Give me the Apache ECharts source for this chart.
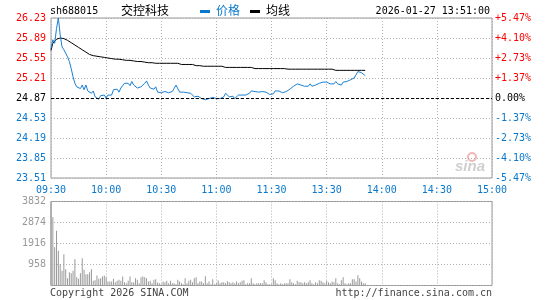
<!DOCTYPE html>
<html>
<head>
<meta charset="utf-8">
<script src="https://cdn.jsdelivr.net/npm/echarts@6/dist/echarts.min.js"></script>
<style>
html,body{margin:0;padding:0;background:#fff;}
#c{width:545px;height:300px;}
</style>
</head>
<body>
<div id="c"></div>
<script>
var preClose = 24.87;
var priceTicks = [23.51, 23.85, 24.19, 24.53, 24.87, 25.21, 25.55, 25.89, 26.23];
var pctLabels = ['-5.47%','-4.10%','-2.73%','-1.37%','0.00%','+1.37%','+2.73%','+4.10%','+5.47%'];
var timeLabels = ['09:30','10:00','10:30','11:00','11:30','13:30','14:00','14:30','15:00'];
var volTicks = [0, 958, 1916, 2874, 3832];

var prices = [
25.71,25.86,25.80,26.05,26.23,25.94,25.74,25.69,25.71,25.57,
25.49,25.37,25.23,25.12,25.06,25.09,25.03,25.09,25.01,25.09,
24.99,25.02,24.95,24.99,24.89,24.92,24.85,24.91,24.93,24.92,
24.87,24.92,24.95,24.92,25.01,24.99,25.02,24.97,25.04,25.06,
25.12,25.09,25.12,25.08,25.15,25.09,25.06,25.04,25.02,25.06,
25.09,25.12,25.16,25.09,25.04,25.01,25.02,25.06,24.97,24.99,
24.96,24.99,24.98,25.01,24.96,24.99,24.98,25.03,25.09,25.06,
24.97,24.97,24.97,24.96,24.96,24.94,24.95,24.92,24.89,24.89,
24.90,24.89,24.86,24.85,24.84,24.85,24.86,24.86,24.88,24.88,
24.86,24.86,24.86,24.86,24.89,24.95,24.94,24.89,24.92,24.90,
24.86,24.86,24.92,24.92,24.92,24.92,24.92,24.95,24.95,24.99,
24.99,24.98,24.97,24.97,24.97,24.98,24.98,24.97,24.95,24.93,
24.93,24.94,24.99,24.99,24.99,24.96,24.96,24.96,24.98,25.01,
25.02,25.05,25.07,25.09,25.11,25.11,25.09,25.10,25.07,25.10,
25.07,25.11,25.07,25.07,25.09,25.10,25.12,25.14,25.14,25.14,
25.14,25.14,25.11,25.11,25.11,25.15,25.11,25.11,25.09,25.14,
25.15,25.15,25.16,25.18,25.18,25.21,25.23,25.32,25.32,25.30,
25.28,25.25
];

var avgPrices = [
25.68,25.80,25.83,25.87,25.89,25.89,25.89,25.88,25.87,25.85,
25.83,25.81,25.79,25.77,25.75,25.73,25.71,25.69,25.67,25.65,
25.63,25.61,25.60,25.59,25.58,25.58,25.57,25.57,25.56,25.56,
25.55,25.55,25.54,25.54,25.54,25.53,25.53,25.53,25.52,25.52,
25.52,25.51,25.51,25.51,25.50,25.50,25.50,25.49,25.49,25.49,
25.48,25.48,25.48,25.47,25.47,25.47,25.47,25.46,25.46,25.46,
25.46,25.46,25.46,25.46,25.46,25.46,25.46,25.46,25.46,25.46,
25.44,25.44,25.44,25.44,25.44,25.44,25.44,25.44,25.44,25.42,
25.42,25.42,25.42,25.41,25.41,25.41,25.41,25.41,25.41,25.41,
25.41,25.41,25.41,25.41,25.39,25.39,25.39,25.39,25.39,25.39,
25.39,25.39,25.39,25.39,25.39,25.39,25.39,25.39,25.39,25.39,
25.37,25.37,25.37,25.37,25.37,25.37,25.37,25.37,25.37,25.37,
25.37,25.37,25.37,25.37,25.37,25.37,25.37,25.37,25.37,25.36,
25.36,25.36,25.36,25.36,25.36,25.36,25.36,25.36,25.36,25.36,
25.36,25.36,25.36,25.36,25.36,25.36,25.36,25.36,25.36,25.36,
25.36,25.36,25.36,25.36,25.36,25.34,25.34,25.34,25.34,25.34,
25.34,25.34,25.34,25.34,25.34,25.34,25.34,25.34,25.34,25.34,
25.34,25.34
];

var volumes = [
3832,3116,1748,2493,1581,973,669,1429,745,334,
608,562,669,1201,380,304,562,1246,714,517,
517,608,745,213,243,456,304,334,410,456,
380,182,182,182,304,152,213,258,213,410,
152,106,213,410,152,152,334,258,106,380,
410,380,334,182,213,106,258,289,137,106,
61,182,152,213,106,213,106,106,61,258,
182,106,61,334,106,213,258,152,334,380,
106,182,182,106,426,106,182,61,289,61,
106,228,106,152,152,106,198,152,106,152,
106,182,106,152,213,243,61,106,106,334,
106,61,106,106,106,106,243,152,61,61,
61,334,243,106,61,106,61,106,106,106,
289,152,106,61,213,152,152,106,152,106,
152,243,106,61,152,106,243,213,152,106,
213,152,106,182,152,334,106,61,243,380,
106,61,106,106,289,289,182,471,334,182,
106,106
];

var MONO = "'DejaVu Sans Mono', monospace";
var CJK = "'Noto Sans CJK SC', sans-serif";
var BLUE = '#0a78cc';
var LINEBLUE = '#1a7fd2';
var RED = '#ff0000';
var GRAYGRID = '#b0b0b0';

function priceColor(v) {
  v = Number(v);
  if (Math.abs(v - preClose) < 0.001) return '#000';
  return v > preClose ? RED : BLUE;
}

var chart = echarts.init(document.getElementById('c'), null, {renderer: 'canvas'});
chart.setOption({
  animation: false,
  backgroundColor: '#fff',
  grid: [
    {left: 51, top: 18, width: 441, height: 160, show: true, borderColor: '#999', borderWidth: 1, backgroundColor: 'transparent'},
    {left: 51, top: 201.5, width: 441, height: 84, show: true, borderColor: '#999', borderWidth: 1, backgroundColor: 'transparent'}
  ],
  xAxis: [
    {type: 'value', gridIndex: 0, min: 0, max: 240, interval: 30,
     axisLine: {show: false}, axisTick: {show: false},
     splitLine: {show: true, lineStyle: {color: GRAYGRID, type: [1, 2], width: 1}},
     axisLabel: {show: true, margin: 7, color: BLUE, fontFamily: MONO, fontSize: 10,
       formatter: function (v) { return timeLabels[Math.round(v / 30)] || ''; }}},
    {type: 'value', gridIndex: 1, min: 0, max: 240, interval: 30,
     axisLine: {show: false}, axisTick: {show: false},
     splitLine: {show: true, lineStyle: {color: GRAYGRID, type: [1, 2], width: 1}},
     axisLabel: {show: false}}
  ],
  yAxis: [
    {type: 'value', gridIndex: 0, min: priceTicks[0], max: priceTicks[priceTicks.length - 1], interval: 0.34,
     axisLine: {show: false}, axisTick: {show: false},
     splitLine: {show: true, lineStyle: {color: GRAYGRID, type: [1, 2], width: 1}},
     axisLabel: {margin: 5, fontFamily: MONO, fontSize: 10,
       color: function (v) { return priceColor(v); },
       formatter: function (v) { return Number(v).toFixed(2); }}},
    {type: 'value', gridIndex: 0, position: 'right', min: -4, max: 4, interval: 1,
     axisLine: {show: false}, axisTick: {show: false}, splitLine: {show: false},
     axisLabel: {margin: 3, fontFamily: MONO, fontSize: 10,
       color: function (v) { v = Number(v); return v === 0 ? '#000' : (v > 0 ? RED : BLUE); },
       formatter: function (v) { return pctLabels[Math.round(v) + 4]; }}},
    {type: 'value', gridIndex: 1, min: volTicks[0], max: volTicks[volTicks.length - 1], interval: 958,
     axisLine: {show: false}, axisTick: {show: false},
     splitLine: {show: true, lineStyle: {color: GRAYGRID, type: [1, 2], width: 1}},
     axisLabel: {margin: 5, fontFamily: MONO, fontSize: 10, color: '#999',
       formatter: function (v) { return v === 0 ? '' : String(v); }}}
  ],
  series: [
    {type: 'line', name: '均线', xAxisIndex: 0, yAxisIndex: 0, showSymbol: false, symbol: 'none',
     data: avgPrices.map(function (p, i) { return [i, p]; }),
     lineStyle: {color: '#000', width: 1}, z: 3},
    {type: 'line', name: '价格', xAxisIndex: 0, yAxisIndex: 0, showSymbol: false, symbol: 'none',
     data: prices.map(function (p, i) { return [i, p]; }),
     lineStyle: {color: LINEBLUE, width: 1}, z: 4,
     markLine: {silent: true, symbol: 'none', label: {show: false},
       lineStyle: {color: '#000', type: [3, 2], width: 1},
       data: [{yAxis: preClose}]}},
    {type: 'bar', xAxisIndex: 1, yAxisIndex: 2, barWidth: 1,
     data: volumes.map(function (v, i) { return [i, v]; }),
     itemStyle: {color: '#999'}}
  ],
  graphic: [
    {type: 'text', left: 50, top: 6, style: {text: 'sh688015', font: '10px ' + MONO, fill: '#000'}},
    {type: 'text', left: 121, top: 4, style: {text: '交控科技', font: '12px ' + CJK, fill: '#000'}},
    {type: 'rect', shape: {x: 200, y: 10, width: 10, height: 3}, style: {fill: BLUE}},
    {type: 'text', left: 216, top: 4, style: {text: '价格', font: '12px ' + CJK, fill: BLUE}},
    {type: 'rect', shape: {x: 250, y: 10, width: 10, height: 3}, style: {fill: '#000'}},
    {type: 'text', left: 266, top: 4, style: {text: '均线', font: '12px ' + CJK, fill: '#000'}},
    {type: 'text', right: 55, top: 6, style: {text: '2026-01-27 13:51:00', font: '10px ' + MONO, fill: '#000'}},
    {type: 'circle', shape: {cx: 472, cy: 157, r: 4}, style: {fill: 'none', stroke: '#f0b8b8', lineWidth: 2}},
    {type: 'text', left: 455, top: 159, style: {text: 'sina', font: 'italic bold 15px Arial, sans-serif', fill: '#cfcfcf'}},
    {type: 'text', left: 50, top: 288, style: {text: 'Copyright 2026 SINA.COM', font: '10px ' + MONO, fill: '#444'}},
    {type: 'text', right: 53, top: 288, style: {text: 'http://finance.sina.com.cn', font: '10px ' + MONO, fill: '#444'}}
  ]
});
</script>
</body>
</html>
